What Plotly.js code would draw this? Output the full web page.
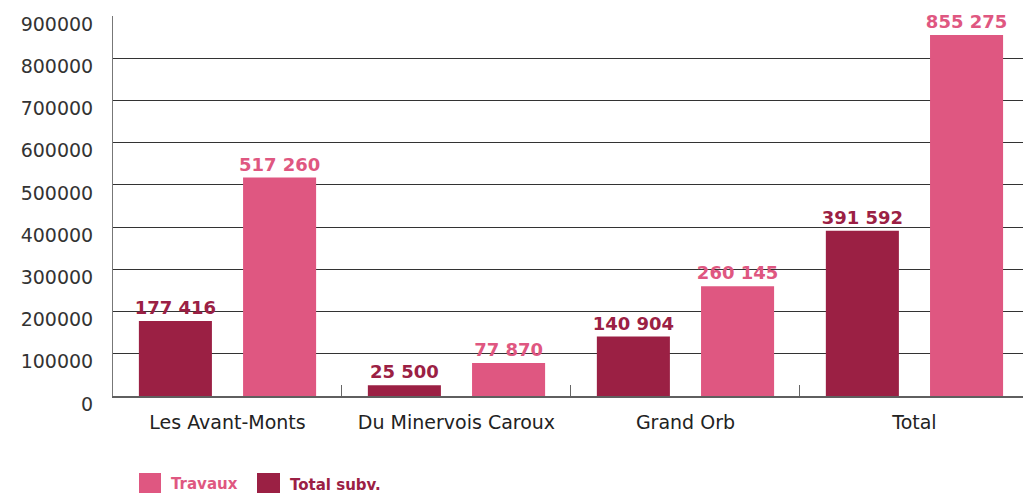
<!DOCTYPE html>
<html><head><meta charset="utf-8">
<script src="https://cdn.plot.ly/plotly-3.0.1.min.js"></script>
<style>html,body{margin:0;padding:0;background:#fff}#c{width:1023px;height:493px}</style>
</head><body><div id="c"></div>
<script>
const categories = ["Les Avant-Monts", "Du Minervois Caroux", "Grand Orb", "Total"];
const totalSubv = [177416, 25500, 140904, 391592];
const travaux = [517260, 77870, 260145, 855275];
const yTickVals = [0, 100000, 200000, 300000, 400000, 500000, 600000, 700000, 800000, 900000];
const yTickText = ["0", "100000", "200000", "300000", "400000", "500000", "600000", "700000", "800000", "900000"];
const seriesNames = ["Travaux", "Total subv."];

const PINK = "#DF5781", DARK = "#9B2044";
const fmt = v => String(v).replace(/\B(?=(\d{3})+(?!\d))/g, " ");
const W = 0.319;

const traces = [
  {type: "bar", x: categories, y: totalSubv, name: seriesNames[1], marker: {color: DARK},
   width: W, offset: -0.387, text: totalSubv.map(fmt), textposition: "outside", cliponaxis: false,
   constraintext: "none",
   textfont: {family: "DejaVu Sans", size: 18, color: DARK, weight: "bold"}, hoverinfo: "skip"},
  {type: "bar", x: categories, y: travaux, name: seriesNames[0], marker: {color: PINK},
   width: W, offset: 0.068, text: travaux.map(fmt), textposition: "outside", cliponaxis: false,
   constraintext: "none",
   textfont: {family: "DejaVu Sans", size: 18, color: PINK, weight: "bold"}, hoverinfo: "skip"}
];

const layout = {
  width: 1023, height: 493,
  margin: {l: 113, r: 0, t: 16, b: 97},
  paper_bgcolor: "#fff", plot_bgcolor: "#fff",
  showlegend: false,
  barmode: "group",
  font: {family: "DejaVu Sans", color: "#333"},
  xaxis: {
    type: "category", range: [-0.5, 3.474],
    showline: true, linecolor: "#5f5f5f", linewidth: 2,
    ticks: "inside", tickson: "boundaries", ticklen: 11, tickcolor: "#666", tickwidth: 1,
    tickfont: {family: "DejaVu Sans", size: 19, color: "#222"},
    showgrid: false, zeroline: false, ticklabelstandoff: 8
  },
  yaxis: {
    range: [0, 900000], tickvals: yTickVals, ticktext: yTickText,
    showline: true, linecolor: "#777", linewidth: 1,
    showgrid: true, gridcolor: "#333", gridwidth: 1, zeroline: false,
    ticks: "", tickfont: {family: "DejaVu Sans", size: 19, color: "#333"},
    ticklabelstandoff: 15, ticklabelshift: 8
  },
  shapes: [
    {type: "rect", xref: "paper", yref: "paper", x0: 26/910, x1: 48/910, y0: -(473-396)/380, y1: -(495-396)/380, fillcolor: PINK, line: {width: 0}},
    {type: "rect", xref: "paper", yref: "paper", x0: 144/910, x1: 167/910, y0: -(473-396)/380, y1: -(495-396)/380, fillcolor: DARK, line: {width: 0}}
  ],
  annotations: [
    {xref: "paper", yref: "paper", x: 56/910, y: -(484-396)/380, xanchor: "left", yanchor: "middle", showarrow: false,
     text: seriesNames[0], font: {family: "DejaVu Sans", size: 15, color: PINK, weight: "bold"}},
    {xref: "paper", yref: "paper", x: 175/910, y: -(485-396)/380, xanchor: "left", yanchor: "middle", showarrow: false,
     text: seriesNames[1], font: {family: "DejaVu Sans", size: 15, color: DARK, weight: "bold"}}
  ]
};
Plotly.newPlot("c", traces, layout, {displayModeBar: false, staticPlot: true});
</script></body></html>
